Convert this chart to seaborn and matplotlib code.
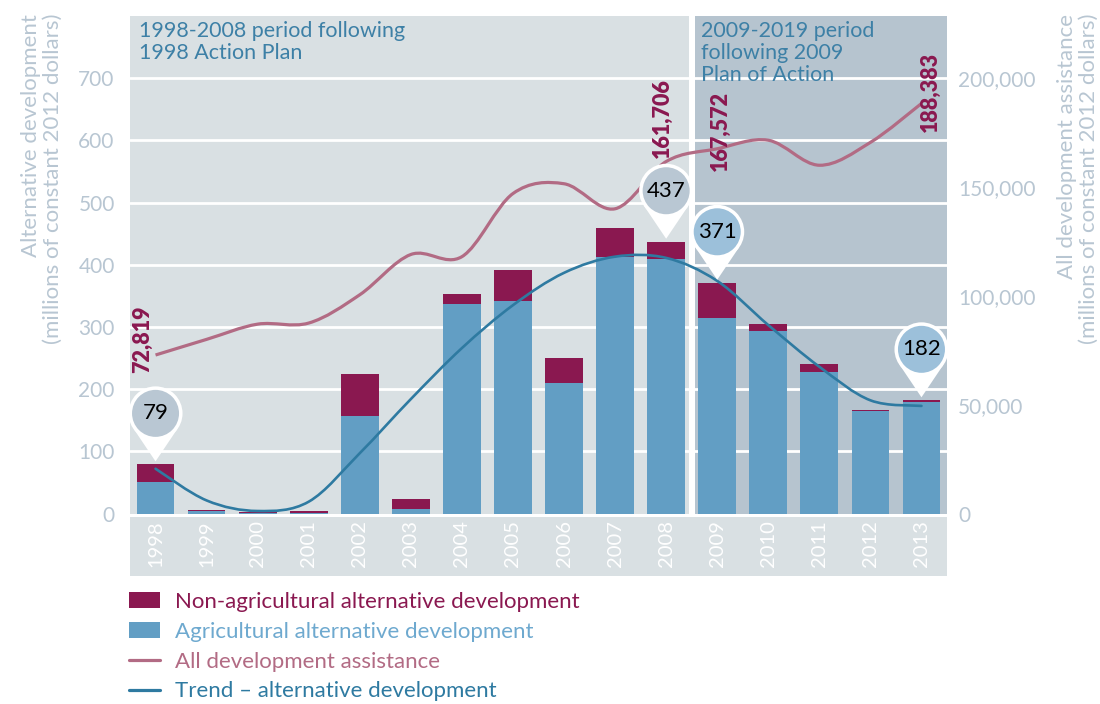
import numpy as np
import matplotlib
matplotlib.use("Agg")
import matplotlib.pyplot as plt
import matplotlib.transforms as mtransforms
from matplotlib.path import Path
from matplotlib.patches import PathPatch, Circle, Polygon, Rectangle, Patch
from matplotlib.lines import Line2D
import seaborn as sns

# ---------------------------------
# Data
# ---------------------------------

years = [str(y) for y in range(1998, 2014)]

agricultural = [51, 4, 0.5, 1, 157, 7, 337, 341, 210, 413, 409, 315, 293, 228, 164.5, 179]

non_agricultural = [28, 2, 2, 2.5, 68, 16, 16, 51, 40, 46, 28, 56, 12, 13, 1.5, 3]

# all development assistance, millions of constant 2012 dollars
all_assistance = [72819, 80000, 87000, 87500, 100500, 119000, 118000, 147000,
                  151500, 140000, 161706, 167572, 171500, 160000, 170500, 188383]

# trend of alternative development
trend = [72, 21, 4, 19, 97, 184, 266, 335, 387, 413, 411, 374, 303, 236, 182, 173]

labelled_years = ["1998", "2008", "2009", "2013"]

pin_years = ["1998", "2008", "2009", "2013"]

legend_labels = [
    "Non-agricultural alternative development",
    "Agricultural alternative development",
    "All development assistance",
    "Trend \u2013 alternative development",
]

# ---------------------------------
# Style
# ---------------------------------

C_NONAG = "#8a1850"
C_AG = "#629ec4"
C_ALL = "#b26b84"
C_TREND = "#2e7aa1"
C_BG1 = "#d9e0e3"
C_BG2 = "#b6c4cf"
C_TICK = "#b8c6d2"
C_TITLE = "#3d80a6"
C_LEG_AG = "#6ea9cf"
C_PIN_GREY = "#b9c7d3"
C_PIN_BLUE = "#9cc0da"

sns.set_theme(style="white")
plt.rcParams["font.family"] = ["Lato", "DejaVu Sans"]

W, H = 1100, 704
fig = plt.figure(figsize=(W / 100, H / 100), dpi=100)

ax_left, ax_right = 130, 947
ax_top, ax_bottom = 16, 513.5
ax = fig.add_axes([ax_left / W, 1 - ax_bottom / H,
                   (ax_right - ax_left) / W, (ax_bottom - ax_top) / H])
ax.set_facecolor("white")


def smooth_path(xs, ys):
    pts = np.column_stack([xs, ys]).astype(float)
    n = len(pts)
    verts = [pts[0]]
    codes = [Path.MOVETO]
    for i in range(n - 1):
        p0 = pts[max(i - 1, 0)]
        p1 = pts[i]
        p2 = pts[i + 1]
        p3 = pts[min(i + 2, n - 1)]
        verts += [p1 + (p2 - p0) / 6, p2 - (p3 - p1) / 6, p2]
        codes += [Path.CURVE4] * 3
    return Path(verts, codes)


# ---------------------------------
# Backgrounds and grid
# ---------------------------------

ax.axvspan(-0.5, 10.44, color=C_BG1, lw=0, zorder=0.1)
ax.axvspan(10.56, 15.5, color=C_BG2, lw=0, zorder=0.1)
for v in range(100, 800, 100):
    ax.axhline(v, color="white", lw=2, zorder=0.5)

band = Rectangle((ax_left / W, 1 - 576 / H), (ax_right - ax_left) / W,
                 (576 - 517) / H, transform=fig.transFigure,
                 color=C_BG1, lw=0, zorder=-1)
fig.patches.append(band)

# ---------------------------------
# Bars
# ---------------------------------

totals = [a + b for a, b in zip(agricultural, non_agricultural)]

sns.barplot(x=years, y=totals, color=C_NONAG, saturation=1, width=0.74,
            linewidth=0, ax=ax, zorder=2)
sns.barplot(x=years, y=agricultural, color=C_AG, saturation=1, width=0.74,
            linewidth=0, ax=ax, zorder=2)

xpos = np.arange(len(years))

ax.add_patch(PathPatch(smooth_path(xpos, trend), fill=False, ec=C_TREND,
                       lw=1.9, zorder=3, capstyle="round"))

ax.set_xlim(-0.5, 15.5)
ax.set_ylim(0, 800)
ax.set_yticks(range(0, 701, 100))
ax.set_xticks(xpos)
ax.set_xticklabels(years, rotation=90, color="white", fontsize=14.5)
ax.tick_params(axis="x", length=0, pad=5)
ax.tick_params(axis="y", length=0, pad=11, labelsize=15, labelcolor=C_TICK)
ax.set_xlabel("")
ax.set_ylabel("")
for s in ax.spines.values():
    s.set_visible(False)

# ---------------------------------
# All development assistance (right axis)
# ---------------------------------

ax2 = ax.twinx()
ax2.set_ylim(0, 800 * 200000 / 700)
ax2.set_yticks(range(0, 200001, 50000))
ax2.set_yticklabels([f"{v:,}" for v in range(0, 200001, 50000)])
ax2.tick_params(axis="y", length=0, pad=8, labelsize=15, labelcolor=C_TICK)
for s in ax2.spines.values():
    s.set_visible(False)
ax2.grid(False)

ax2.add_patch(PathPatch(smooth_path(xpos, all_assistance), fill=False,
                        ec=C_ALL, lw=2.3, zorder=3))

label_offsets = {"1998": (-13, 16), "2008": (-4, 43), "2009": (3, 18), "2013": (9, 12)}
for yr in labelled_years:
    i = years.index(yr)
    ax2.annotate(f"{all_assistance[i]:,}", (i, all_assistance[i]),
                 xytext=label_offsets[yr], textcoords="offset pixels",
                 rotation=90, ha="center", va="center", color=C_NONAG,
                 fontsize=15.5, fontweight="heavy", zorder=6)

# ---------------------------------
# Pins
# ---------------------------------

pin_colors = {"1998": C_PIN_GREY, "2008": C_PIN_GREY, "2009": C_PIN_BLUE, "2013": C_PIN_BLUE}
for yr in pin_years:
    i = years.index(yr)
    tr = mtransforms.ScaledTranslation(i, totals[i], ax.transData)
    ax2.add_patch(Polygon([(0, 3), (-22.2, 36), (22.2, 36)], closed=True,
                          transform=tr, fc="white", ec="none", zorder=7))
    ax2.add_patch(Circle((0, 51), 27, transform=tr, fc="white", ec="none", zorder=7))
    ax2.add_patch(Circle((0, 51), 23.5, transform=tr, fc=pin_colors[yr], ec="none", zorder=8))
    ax2.annotate(f"{round(totals[i])}", (i, totals[i]), xycoords=ax.transData,
                 xytext=(0, 51), textcoords="offset pixels", ha="center",
                 va="center", fontsize=16, color="black", zorder=9)

# ---------------------------------
# Texts
# ---------------------------------

ax.text(139 / W, 1 - 21 / H, "1998-2008 period following\n1998 Action Plan",
        transform=fig.transFigure, ha="left", va="top", fontsize=15.5,
        color=C_TITLE, linespacing=1.12, zorder=10)
ax.text(701 / W, 1 - 21 / H, "2009-2019 period\nfollowing 2009\nPlan of Action",
        transform=fig.transFigure, ha="left", va="top", fontsize=15.5,
        color=C_TITLE, linespacing=1.12, zorder=10)

fig.text(42 / W, 1 - 14 / H,
         "Alternative development\n(millions of constant 2012 dollars)",
         rotation=90, ha="center", va="top", multialignment="right",
         fontsize=16, color=C_TICK, linespacing=1.15)
fig.text(1078 / W, 1 - 14 / H,
         "All development assistance\n(millions of constant 2012 dollars)",
         rotation=90, ha="center", va="top", multialignment="right",
         fontsize=16, color=C_TICK, linespacing=1.15)

# ---------------------------------
# Legend
# ---------------------------------

handles = [
    Patch(color=C_NONAG, lw=0),
    Patch(color=C_AG, lw=0),
    Line2D([], [], color=C_ALL, lw=2.3),
    Line2D([], [], color=C_TREND, lw=2.3),
]
fig.legend(handles, legend_labels, loc="upper left",
           bbox_to_anchor=(129 / W, 1 - 592 / H), frameon=False,
           fontsize=16, handlelength=1.4, handletextpad=0.68,
           labelspacing=0.44, borderpad=0, borderaxespad=0,
           labelcolor=[C_NONAG, C_LEG_AG, C_ALL, C_TREND])

fig.savefig("out.png", dpi=100)
